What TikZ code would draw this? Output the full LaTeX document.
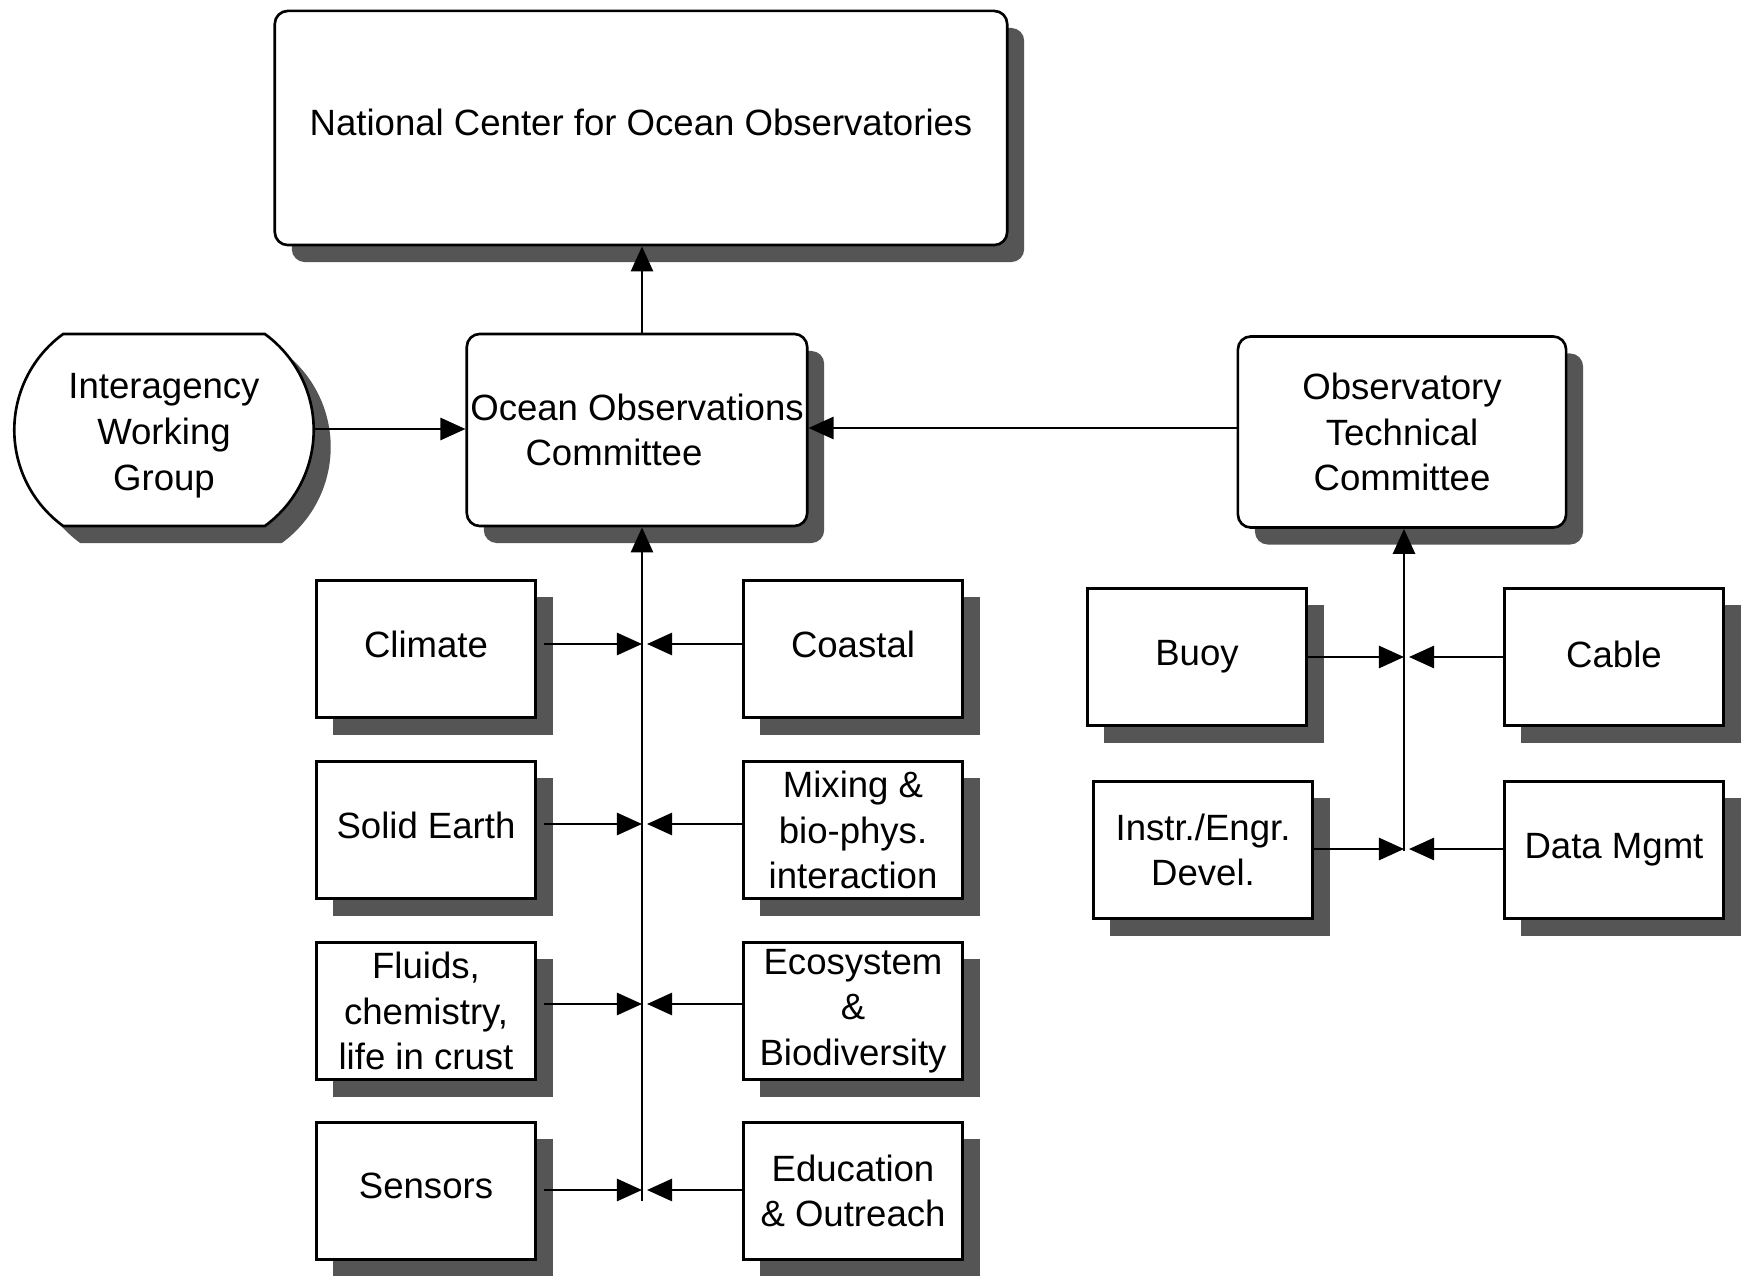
\documentclass[tikz,border=0pt]{standalone}
\usepackage{fontspec}
\setmainfont{Liberation Sans}
\usetikzlibrary{arrows.meta,shadows,shapes.misc}
\definecolor{shadowgray}{HTML}{555555}
\tikzset{
  lbl/.style={font=\fontsize{10.4pt}{13pt}\selectfont, align=center},
  shad/.style={drop shadow={shadow xshift=0.17cm, shadow yshift=-0.17cm, fill=shadowgray, opacity=1}},
  sqbox/.style={lbl, draw=black, line width=0.75pt, fill=white, shad, minimum width=2.19cm, minimum height=1.37cm, inner sep=1pt},
  rbox/.style={lbl, draw=black, line width=0.75pt, fill=white, shad, rounded corners=0.13cm, inner sep=1pt},
  arr/.style={line width=0.75pt, -{Triangle[length=0.25cm,width=0.22cm]}},
  ln/.style={line width=0.75pt}
}
\newcommand{\upbit}[1]{\raisebox{0.1cm}{#1}}
\begin{document}
\begin{tikzpicture}[x=0.01cm,y=-0.01cm]
\useasboundingbox[fill=white] (0,0) rectangle (1744,1276);

% main nodes
\node[rbox, minimum width=7.32cm, minimum height=2.34cm] (ncoo) at (641,128) {\raisebox{0.12cm}{National Center for Ocean Observatories}};
\node[lbl, draw=black, line width=0.75pt, fill=white, shad, rounded rectangle, rounded rectangle arc length=108,
      minimum width=2.94cm, minimum height=1.92cm, inner sep=1pt] (iwg) at (164,430) {\parbox{2.5cm}{\vspace*{0.11cm}\centering Interagency\\Working\\Group}};
\node[rbox, minimum width=3.40cm, minimum height=1.92cm] (ooc) at (637,430) {Ocean Observations\\\hspace*{-0.46cm}Committee};
\node[rbox, minimum width=3.28cm, minimum height=1.91cm] (otc) at (1402,432) {Observatory\\Technical\\Committee};

% left column
\node[sqbox] (climate) at (426,649) {\upbit{Climate}};
\node[sqbox] (solid) at (426,830) {\upbit{Solid Earth}};
\node[sqbox] (fluids) at (426,1011) {Fluids,\\chemistry,\\life in crust};
\node[sqbox] (sensors) at (426,1191) {\upbit{Sensors}};
% right column
\node[sqbox] (coastal) at (853,649) {\upbit{Coastal}};
\node[sqbox] (mixing) at (853,830) {Mixing \&\\bio-phys.\\interaction};
\node[sqbox] (eco) at (853,1011) {Ecosystem\\\&\\Biodiversity};
\node[sqbox] (edu) at (853,1191) {Education\\\& Outreach};

% technical group
\node[sqbox] (buoy) at (1197,657) {Buoy};
\node[sqbox] (cable) at (1614,657) {\raisebox{0.05cm}{Cable}};
\node[sqbox] (instr) at (1203,850) {Instr./Engr.\\Devel.};
\node[sqbox] (data) at (1614,850) {Data Mgmt};

% junction coordinates
\coordinate (jL1) at (642,644);
\coordinate (jL2) at (642,824);
\coordinate (jL3) at (642,1004);
\coordinate (jL4) at (642,1190);
\coordinate (jLb) at (642,1201);
\coordinate (jR1) at (1404,657);
\coordinate (jR2) at (1404,849);
\coordinate (jRb) at (1404,851);

% trunks
\draw[arr] (jLb) -- (jLb |- ooc.south);
\draw[arr] (jLb |- ooc.north) -- (jLb |- ncoo.south);
\draw[arr] (jRb) -- (jRb |- otc.south);

% side arrows into OOC
\draw[arr] (iwg.east |- 0,429) -- (ooc.west |- 0,429);
\draw[arr] (otc.west |- 0,428) -- (ooc.east |- 0,428);

% left feeders
\draw[arr] ([xshift=0.07cm]climate.east |- jL1) -- (jL1);
\draw[arr] ([xshift=0.07cm]solid.east |- jL2) -- (jL2);
\draw[arr] ([xshift=0.07cm]fluids.east |- jL3) -- (jL3);
\draw[arr] ([xshift=0.07cm]sensors.east |- jL4) -- (jL4);
\draw[arr] (coastal.west |- jL1) -- ([xshift=0.05cm]jL1);
\draw[arr] (mixing.west |- jL2) -- ([xshift=0.05cm]jL2);
\draw[arr] (eco.west |- jL3) -- ([xshift=0.05cm]jL3);
\draw[arr] (edu.west |- jL4) -- ([xshift=0.05cm]jL4);

% right feeders
\draw[arr] (buoy.east |- jR1) -- (jR1);
\draw[arr] (instr.east |- jR2) -- (jR2);
\draw[arr] (cable.west |- jR1) -- ([xshift=0.05cm]jR1);
\draw[arr] (data.west |- jR2) -- ([xshift=0.05cm]jR2);
\end{tikzpicture}
\end{document}
